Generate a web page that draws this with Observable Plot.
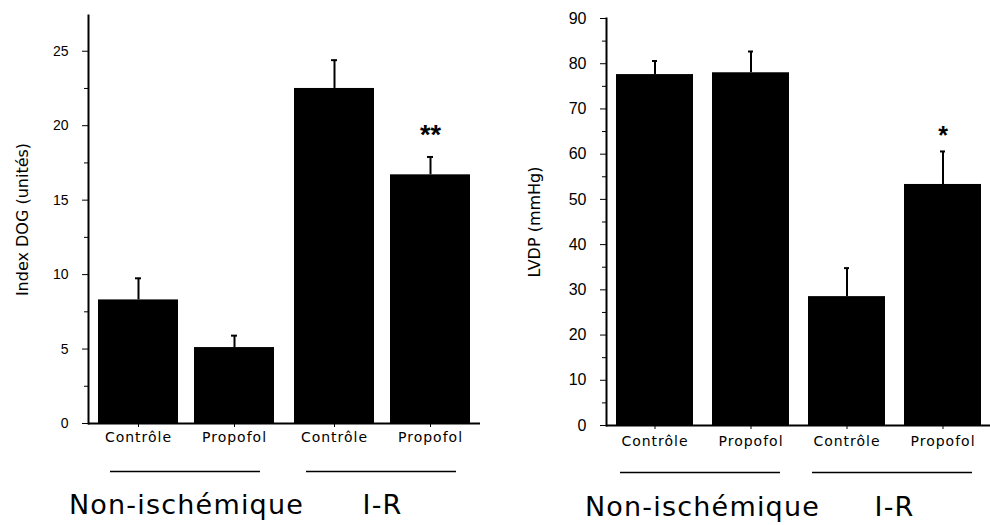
<!DOCTYPE html>
<html><head><meta charset="utf-8">
<script src="https://cdn.jsdelivr.net/npm/d3@7"></script>
<script src="https://cdn.jsdelivr.net/npm/@observablehq/plot@0.6"></script>
<style>
body{margin:0;background:#fff;}
#wrap{display:flex;width:990px;height:525px;}
g[aria-label="x-axis tick label"] text{letter-spacing:1px;}
g[aria-label="fx-axis tick label"] text{letter-spacing:1.2px;}
</style></head><body><div id="wrap"></div>
<script>
// ---- data ----
const groupNames = ["Non-ischémique", "I-R"];
const treatmentNames = ["Contrôle", "Propofol"];
const groups = ["Non-ischémique", "Non-ischémique", "I-R", "I-R"];
const treatments = ["Contrôle", "Propofol", "Contrôle", "Propofol"];

const dogMean = [8.3, 5.1, 22.5, 16.7];
const dogErr = [1.45, 0.8, 1.9, 1.2];
const dogSig = ["", "", "", "**"];
const dogTicks = [0, 5, 10, 15, 20, 25];
const dogMinor = [2.5, 7.5, 12.5, 17.5, 22.5];
const dogLabel = "Index DOG (unités)";

const lvdpMean = [77.6, 78.0, 28.5, 53.3];
const lvdpErr = [3.0, 4.7, 6.3, 7.3];
const lvdpSig = ["", "", "", "*"];
const lvdpTicks = [0, 10, 20, 30, 40, 50, 60, 70, 80, 90];
const lvdpMinor = [5, 15, 25, 35, 45, 55, 65, 75, 85];
const lvdpLabel = "LVDP (mmHg)";

function rows(mean, err, sig) {
  return groups.map((g, i) => ({group: g, treatment: treatments[i], mean: mean[i], err: err[i], sig: sig[i]}));
}

function chart(o) {
  const data = o.data;
  return Plot.plot({
    width: 495, height: 525,
    marginLeft: o.ml, marginRight: o.mr, marginTop: o.mt, marginBottom: o.mb,
    style: {fontFamily: "'Liberation Sans', Arial, sans-serif", background: "white", color: "black"},
    fx: {domain: groupNames, padding: 0, label: null},
    x: {domain: treatmentNames, paddingInner: o.pi, paddingOuter: o.po, label: null},
    y: {domain: o.yDomain, label: null},
    marks: [
      Plot.barY(data, {fx: "group", x: "treatment", y: "mean", fill: "black"}),
      Plot.ruleX(data, {fx: "group", x: "treatment", y1: "mean", y2: d => d.mean + d.err, stroke: "black", strokeWidth: 2}),
      Plot.tickY(data, {fx: "group", x: "treatment", y: d => d.mean + d.err, stroke: "black", strokeWidth: 2, insetLeft: o.capInset, insetRight: o.capInset}),
      Plot.text(data, {fx: "group", x: "treatment", y: d => d.mean + d.err, text: "sig", dy: o.sigDy, fontSize: o.sigSize, fontWeight: "bold", fill: "black"}),
      Plot.ruleY([0], {stroke: "black", strokeWidth: 2}),
      Plot.ruleY([0], {stroke: "black", strokeWidth: 1.5, dy: o.lineDy, insetLeft: o.lineL, insetRight: o.lineR}),
      Plot.frame({anchor: "left", facetAnchor: "left", stroke: "black", strokeWidth: 2}),
      Plot.axisY({ticks: o.yTicks, tickSize: 6, tickPadding: o.tickPad, fontSize: o.tickFont, label: null}),
      Plot.axisY({ticks: o.yMinor, tickSize: 4, tickFormat: () => "", label: null}),
      Plot.axisY({ticks: [], label: o.yLabel, labelAnchor: "center", labelArrow: "none", labelOffset: o.labelOffset, dy: o.labelDy, fontSize: 16, fontFamily: "'DejaVu Sans', sans-serif"}),
      Plot.axisX({tickSize: 4, tickPadding: o.xPad, fontSize: 14, fontFamily: "'DejaVu Sans', sans-serif", label: null}),
      Plot.axisFx({anchor: "bottom", tickSize: 0, tickPadding: o.fxPad, fontSize: 27, fontFamily: "'DejaVu Sans', sans-serif", label: null})
    ]
  });
}

const wrap = document.getElementById("wrap");
wrap.append(chart({
  data: rows(dogMean, dogErr, dogSig), yDomain: [0, 27.4], yTicks: dogTicks, yMinor: dogMinor, yLabel: dogLabel,
  ml: 88, mr: 15, mt: 15, mb: 102, pi: 0.17, po: 0.1, capInset: 37, sigDy: -22, sigSize: 27,
  lineDy: 48, lineL: 22, lineR: 24, tickPad: 14, tickFont: 14, labelOffset: 72, labelDy: -11, xPad: 5, fxPad: 71
}));
wrap.append(chart({
  data: rows(lvdpMean, lvdpErr, lvdpSig), yDomain: [0, 90], yTicks: lvdpTicks, yMinor: lvdpMinor, yLabel: lvdpLabel,
  ml: 110, mr: 0, mt: 18, mb: 100, pi: 0.2, po: 0.09, capInset: 36, sigDy: -15, sigSize: 25,
  lineDy: 47, lineL: 14, lineR: 18, tickPad: 14, tickFont: 16, labelOffset: 78, labelDy: -6, xPad: 7, fxPad: 71
}));
</script></body></html>
